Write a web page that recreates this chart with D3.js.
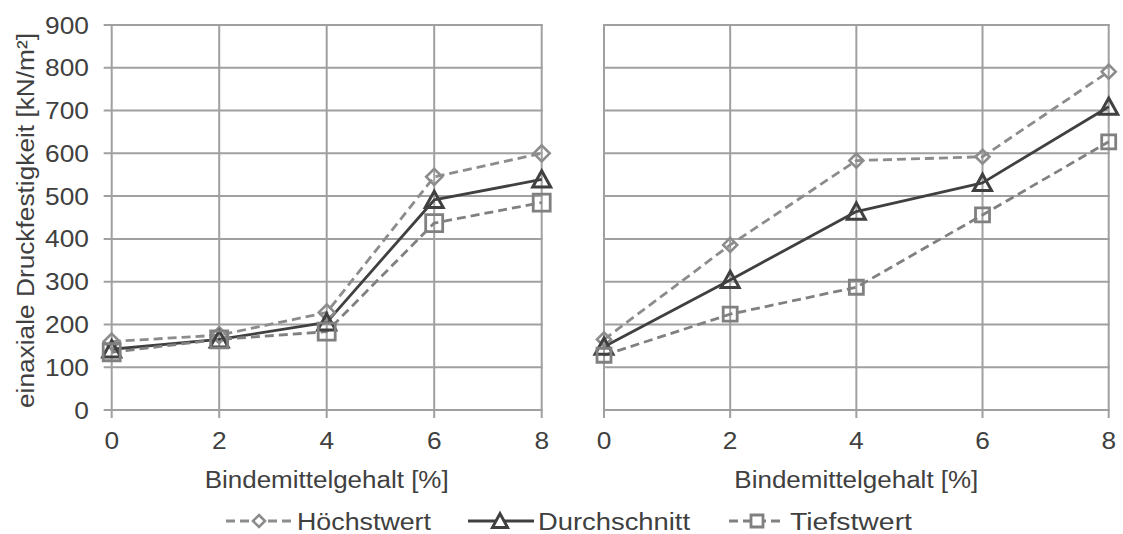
<!DOCTYPE html>
<html>
<head>
<meta charset="utf-8">
<script src="https://cdn.jsdelivr.net/npm/d3@7"></script>
<style>
  html, body { margin: 0; padding: 0; background: #fff; }
  svg { display: block; }
  text { font-family: "Liberation Sans", Arial, sans-serif; fill: #404040; }
</style>
</head>
<body>
<svg id="chart" width="1123" height="534"></svg>
<script>
// ---- data ----
const xValues = [0, 2, 4, 6, 8];
const xTickLabels = ["0", "2", "4", "6", "8"];
const yTickValues = [0, 100, 200, 300, 400, 500, 600, 700, 800, 900];

const leftHoechstwert   = [160, 175, 228, 545, 600];
const leftDurchschnitt  = [142, 165, 205, 491, 539];
const leftTiefstwert    = [135, 165, 183, 437, 485];

const rightHoechstwert  = [165, 386, 583, 592, 791];
const rightDurchschnitt = [148, 304, 464, 531, 709];
const rightTiefstwert   = [128, 224, 287, 456, 627];

const seriesNames = ["Höchstwert", "Durchschnitt", "Tiefstwert"];
const yTitle = "einaxiale Druckfestigkeit [kN/m²]";
const xTitle = "Bindemittelgehalt [%]";

// ---- layout ----
const svg = d3.select("#chart");
const FS = 23.5, SX = 1.12;
const y = d3.scaleLinear().domain([0, 900]).range([410, 25]);
const xLeft = d3.scaleLinear().domain([0, 8]).range([111.7, 541.7]);
const xRight = d3.scaleLinear().domain([0, 8]).range([604, 1108.7]);

const styles = {
  "Höchstwert":   { color: "#8c8c8c", dash: "9,5", width: 2.8, marker: "diamond", mcolor: "#8c8c8c", mwidth: 2.6 },
  "Durchschnitt": { color: "#404040", dash: null,  width: 2.8, marker: "triangle", mcolor: "#404040", mwidth: 3 },
  "Tiefstwert":   { color: "#808080", dash: "9,5", width: 2.8, marker: "square",  mcolor: "#808080", mwidth: 2.8 }
};

function markerPath(type, s) {
  const h = s / 2;
  if (type === "diamond") return `M0,${-h}L${h},0L0,${h}L${-h},0Z`;
  if (type === "square") return `M${-h},${-h}H${h}V${h}H${-h}Z`;
  const th = s * 0.85;
  return `M0,${-th/2 - 1}L${h},${th/2}L${-h},${th/2}Z`;
}

function stretchedText(g, txt, x, yy, anchor) {
  return g.append("text")
    .attr("transform", `translate(${x},${yy}) scale(${SX},1)`)
    .attr("text-anchor", anchor)
    .style("font-size", FS + "px")
    .text(txt);
}

function drawPanel(x, showY, data, msizes) {
  const g = svg.append("g");
  const grid = g.append("g").attr("stroke", "#a0a0a0").attr("stroke-width", 2).attr("fill", "none");
  grid.selectAll("line.h").data(yTickValues).join("line")
    .attr("class", "h")
    .attr("x1", showY ? x(0) - 8 : x(0)).attr("x2", x(8) + 1)
    .attr("y1", d => y(d)).attr("y2", d => y(d));
  grid.selectAll("line.v").data(xValues).join("line")
    .attr("class", "v")
    .attr("x1", d => x(d)).attr("x2", d => x(d))
    .attr("y1", y(900) - 1).attr("y2", y(0) + 8);

  xValues.forEach((v, i) => stretchedText(g, xTickLabels[i], x(v), 449, "middle"));
  if (showY) {
    yTickValues.forEach(v => stretchedText(g, String(v), 89, y(v) + 8.5, "end"));
  }
  g.append("text")
    .attr("x", (x(0) + x(8)) / 2).attr("y", 488)
    .attr("text-anchor", "middle")
    .attr("textLength", 244).attr("lengthAdjust", "spacingAndGlyphs")
    .style("font-size", FS + "px")
    .text(xTitle);

  const line = d3.line().x((d, i) => x(xValues[i])).y(d => y(d));
  seriesNames.forEach((name, k) => {
    const st = styles[name];
    g.append("path").datum(data[k])
      .attr("d", line)
      .attr("fill", "none")
      .attr("stroke", st.color)
      .attr("stroke-width", st.width)
      .attr("stroke-dasharray", st.dash)
      .attr("stroke-linejoin", "round");
  });
  seriesNames.forEach((name, k) => {
    const st = styles[name];
    g.selectAll(null).data(data[k]).join("path")
      .attr("transform", (d, i) => `translate(${x(xValues[i])},${y(d)})`)
      .attr("d", markerPath(st.marker, msizes[k]))
      .attr("fill", "none")
      .attr("stroke", st.mcolor)
      .attr("stroke-width", st.mwidth)
      .attr("stroke-linejoin", "miter");
  });
}

drawPanel(xLeft, true, [leftHoechstwert, leftDurchschnitt, leftTiefstwert], [16, 18, 17]);
drawPanel(xRight, false, [rightHoechstwert, rightDurchschnitt, rightTiefstwert], [14, 18, 14]);

svg.append("text")
  .attr("transform", `translate(34,220.5) rotate(-90)`)
  .attr("text-anchor", "middle")
  .attr("textLength", 375).attr("lengthAdjust", "spacingAndGlyphs")
  .style("font-size", FS + "px")
  .text(yTitle);

const legendItems = [
  { name: "Höchstwert",   x1: 226, x2: 295, mx: 259, tx: 297, tw: 134, ms: 12 },
  { name: "Durchschnitt", x1: 468, x2: 534, mx: 500, tx: 538, tw: 152, ms: 15 },
  { name: "Tiefstwert",   x1: 729, x2: 785, mx: 757, tx: 790, tw: 122, ms: 12 }
];
const ly = 521;
const lg = svg.append("g");
legendItems.forEach(it => {
  const st = styles[it.name];
  lg.append("line")
    .attr("x1", it.x1).attr("x2", it.x2).attr("y1", ly).attr("y2", ly)
    .attr("stroke", st.color).attr("stroke-width", st.width)
    .attr("stroke-dasharray", st.dash);
  lg.append("path")
    .attr("transform", `translate(${it.mx},${ly})`)
    .attr("d", markerPath(st.marker, it.ms))
    .attr("fill", "#fff")
    .attr("stroke", st.mcolor).attr("stroke-width", st.mwidth);
  lg.append("text")
    .attr("x", it.tx).attr("y", ly + 8.5)
    .attr("textLength", it.tw).attr("lengthAdjust", "spacingAndGlyphs")
    .style("font-size", FS + "px")
    .text(it.name);
});
</script>
</body>
</html>
